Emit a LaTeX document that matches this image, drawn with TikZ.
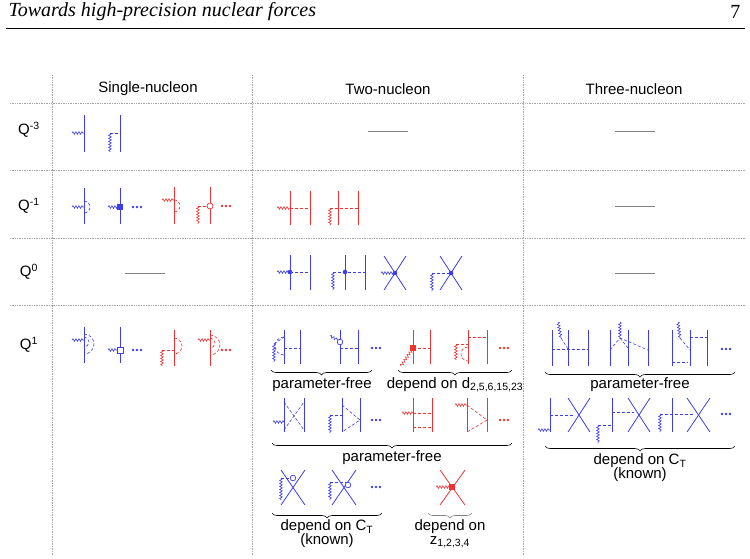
\documentclass[tikz,border=0pt]{standalone}
\usepackage{fontspec}
\setmainfont{Liberation Sans}
\newfontfamily\headfont{Liberation Serif}
\usetikzlibrary{decorations.pathmorphing,decorations.pathreplacing}
\definecolor{nb}{RGB}{60,60,240}
\definecolor{nr}{RGB}{240,50,50}
\tikzset{
  grid/.style={densely dotted, gray!70, line width=0.7pt},
  none/.style={gray, line width=0.7pt},
  nuc/.style={line width=0.8pt},
  pion/.style={densely dashed, line width=0.6pt},
  phot/.style={line width=0.6pt, decorate, decoration={snake, amplitude=1.3pt, segment length=3pt}},
  br/.style={decorate, decoration={brace, amplitude=5pt}, line width=0.6pt, black},
  lbl/.style={font=\fontsize{15}{16}\selectfont, align=center},
}
\newcommand\tdots[2]{\foreach \i in {0,4,8} \fill (#1+\i,#2) circle (1.3);}
\begin{document}
\begin{tikzpicture}[x=1pt, y=-1pt]
\useasboundingbox (0,0) rectangle (750,558);
% header
\node[anchor=west, font=\headfont\itshape\fontsize{20}{22}\selectfont] (title) at (5,12) {Towards high-precision nuclear forces};
\node[anchor=east, font=\headfont\fontsize{20}{22}\selectfont] (page) at (744,12) {7};
\draw[line width=0.4pt] (6,28) -- (745,28);
% table
\foreach \y in {103,170,238,305} \draw[grid] (10,\y) -- (745,\y);
\foreach \x in {52,252,523} \draw[grid] (\x,75) -- (\x,555);
\node[lbl] (h1) at (148,89) {Single-nucleon};
\node[lbl] (h2) at (388,89) {Two-nucleon};
\node[lbl] (h3) at (634,89) {Three-nucleon};
\node[lbl] (q1) at (29,130) {Q\textsuperscript{-3}};
\node[lbl] (q2) at (29,206) {Q\textsuperscript{-1}};
\node[lbl] (q3) at (29,272) {Q\textsuperscript{0}};
\node[lbl] (q4) at (29,345) {Q\textsuperscript{1}};
\draw[none] (368,131) -- (408,131);
\draw[none] (615,131) -- (655,131);
\draw[none] (615,206) -- (655,206);
\draw[none] (615,273) -- (655,273);
\draw[none] (125,273) -- (165,273);
% Q^-3
\begin{scope}[nb]
\draw[nuc] (84,115) -- (84,152);
\draw[phot] (72,133) -- (84,133);
\draw[nuc] (120,115) -- (120,152);
\draw[pion] (110,133) -- (120,133);
\draw[phot] (110,133) -- (110,152);
\end{scope}
% Q^-1 single
\begin{scope}[nb]
\draw[nuc] (84,188) -- (84,224);
\draw[phot] (72,207) -- (84,207);
\draw[pion] (84,201) arc (-90:90:6);
\draw[nuc] (120,188) -- (120,224);
\draw[phot] (108,207) -- (120,207);
\fill (117,204) rectangle (123,210);
\tdots{133}{207}
\end{scope}
\begin{scope}[nr]
\draw[nuc] (174,187) -- (174,224);
\draw[phot] (162,200) -- (174,200);
\draw[pion] (174,200) arc (-90:90:6);
\draw[nuc] (210,187) -- (210,224);
\draw[pion] (198,206) -- (207,206);
\draw[line width=0.7pt, fill=white] (210,206) circle (3);
\draw[phot] (198,206) -- (198,224);
\tdots{222}{206}
\end{scope}
% Q^-1 two
\begin{scope}[nr]
\draw[nuc] (290,191) -- (290,225); \draw[nuc] (310,191) -- (310,225);
\draw[phot] (277,208) -- (290,208); \draw[pion] (290,208) -- (310,208);
\draw[nuc] (338,191) -- (338,225); \draw[nuc] (358,191) -- (358,225);
\draw[pion] (330,208) -- (358,208); \draw[phot] (330,208) -- (330,225);
\end{scope}
% Q^0 two
\begin{scope}[nb]
\draw[nuc] (290,255) -- (290,290); \draw[nuc] (310,255) -- (310,290);
\draw[phot] (277,272) -- (290,272); \draw[pion] (290,272) -- (310,272);
\fill (290,272) circle (2.3);
\draw[nuc] (345,255) -- (345,290); \draw[nuc] (365,255) -- (365,290);
\draw[pion] (333,272) -- (365,272); \draw[phot] (333,272) -- (333,290);
\fill (345,272) circle (2.3);
\draw[nuc] (384,256) -- (406,290); \draw[nuc] (406,256) -- (384,290);
\draw[phot] (381,273) -- (395,273); \fill (395,273) circle (2.3);
\draw[nuc] (440,256) -- (462,290); \draw[nuc] (462,256) -- (440,290);
\draw[pion] (432,273) -- (451,273); \draw[phot] (432,273) -- (432,291);
\fill (451,273) circle (2.3);
\end{scope}
% Q^1 single
\begin{scope}[nb]
\draw[nuc] (84,327) -- (84,363);
\draw[phot] (72,340) -- (84,340);
\draw[pion] (84,337) arc (-90:90:5);
\draw[pion] (84,334) arc (-90:90:10);
\draw[nuc] (120,327) -- (120,363);
\draw[phot] (108,350) -- (117,350);
\draw[line width=0.7pt, fill=white] (117,347) rectangle (123,353);
\tdots{133}{350}
\end{scope}
\begin{scope}[nr]
\draw[nuc] (174,330) -- (174,366);
\draw[pion] (174,338) arc (-90:90:8);
\draw[pion] (162,350) -- (174,350);
\draw[phot] (162,350) -- (162,366);
\draw[nuc] (210,330) -- (210,366);
\draw[phot] (198,340) -- (210,340);
\draw[pion] (210,338) arc (-90:90:5);
\draw[pion] (210,335) arc (-90:90:10);
\tdots{222}{350}
\end{scope}
% Q^1 two, first row
\begin{scope}[nb]
\draw[nuc] (284,330) -- (284,364); \draw[nuc] (300,330) -- (300,364);
\draw[pion] (284,348) -- (300,348);
\draw[pion] (284,337) arc (-90:-270:9);
\draw[pion] (274,344) -- (284,337);
\draw[phot] (274,344) -- (274,362);
\draw[nuc] (340,330) -- (340,364); \draw[nuc] (358,330) -- (358,364);
\draw[phot] (330,336) -- (338,340);
\draw[line width=0.7pt, fill=white] (340,342) circle (2.8);
\draw[pion] (340,348) -- (358,348);
\tdots{372}{348}
\end{scope}
\begin{scope}[nr]
\draw[nuc] (413,330) -- (413,364); \draw[nuc] (430,330) -- (430,364);
\draw[pion] (413,348) -- (430,348);
\draw[phot] (401,366) -- (413,348);
\fill (410,345) rectangle (416,351);
\draw[nuc] (468,330) -- (468,364); \draw[nuc] (487,330) -- (487,364);
\draw[pion] (468,337) -- (487,337);
\draw[pion] (456,344) -- (468,344);
\draw[phot] (456,344) -- (456,360);
\draw[pion] (468,347) arc (-90:-270:7);
\tdots{500}{348}
\end{scope}
\draw[br] (372,370) -- (271,370);
\node[lbl] (pf1) at (322,385) {parameter-free};
\draw[br] (512,370) -- (398,370);
\node[lbl] (dd) at (455,385) {depend on d\textsubscript{2,5,6,15,23}};
% Q^1 two, second row
\begin{scope}[nb]
\draw[nuc] (284,398) -- (284,432); \draw[nuc] (304,398) -- (304,432);
\draw[pion] (284,402) -- (304,430); \draw[pion] (284,430) -- (304,402);
\draw[phot] (273,422) -- (284,422);
\draw[nuc] (342,398) -- (342,432); \draw[nuc] (360,398) -- (360,432);
\draw[pion] (342,405) -- (360,420) -- (342,432);
\draw[pion] (330,415) -- (342,415);
\draw[phot] (330,415) -- (330,433);
\tdots{372}{420}
\end{scope}
\begin{scope}[nr]
\draw[nuc] (413,398) -- (413,432); \draw[nuc] (432,398) -- (432,432);
\draw[pion] (413,413) -- (432,413); \draw[pion] (413,427) -- (432,427);
\draw[phot] (402,413) -- (413,413);
\draw[nuc] (467,398) -- (467,432); \draw[nuc] (487,398) -- (487,432);
\draw[phot] (455,405) -- (467,405);
\draw[pion] (467,405) -- (487,420) -- (467,432);
\tdots{500}{420}
\end{scope}
\draw[br] (512,443) -- (272,443);
\node[lbl] (pf2) at (392,458) {parameter-free};
% Q^1 two, third row
\begin{scope}[nb]
\draw[nuc] (281,470) -- (305,505); \draw[nuc] (305,470) -- (281,505);
\draw[pion] (281,478) -- (290,478);
\draw[phot] (281,478) -- (281,500);
\draw[line width=0.7pt, fill=white] (293,478) circle (2.8);
\draw[nuc] (332,470) -- (356,505); \draw[nuc] (356,470) -- (332,505);
\draw[pion] (330,482) -- (348,482);
\draw[phot] (330,482) -- (330,500);
\draw[line width=0.7pt, fill=white] (348,485) circle (2.8);
\tdots{372}{487}
\end{scope}
\begin{scope}[nr]
\draw[nuc] (440,470) -- (465,505); \draw[nuc] (465,470) -- (440,505);
\draw[phot] (436,487) -- (450,487);
\fill (449,484) rectangle (455,490);
\end{scope}
\draw[br] (382,513) -- (272,513);
\node[lbl] (ct1) at (327,534) {depend on C\textsubscript{T}\\[-2pt](known)};
\draw[br, gray] (472,513) -- (428,513);
\node[lbl] (zz) at (450,534) {depend on\\[-2pt]z\textsubscript{1,2,3,4}};
% Q^1 three, first row
\begin{scope}[nb]
\draw[nuc] (552,330) -- (552,366); \draw[nuc] (568,330) -- (568,366); \draw[nuc] (588,330) -- (588,366);
\draw[pion] (552,349) -- (588,349);
\draw[phot] (558,322) -- (561,338); \draw[pion] (561,338) -- (568,349);
\draw[nuc] (610,330) -- (610,366); \draw[nuc] (628,330) -- (628,366); \draw[nuc] (648,330) -- (648,366);
\draw[phot] (620,322) -- (620,338);
\draw[pion] (610,350) -- (620,338) -- (648,350);
\draw[pion] (620,338) -- (628,348);
\draw[nuc] (672,330) -- (672,366); \draw[nuc] (690,330) -- (690,366); \draw[nuc] (707,330) -- (707,366);
\draw[pion] (672,362) -- (688,362);
\draw[pion] (690,337) -- (707,337);
\draw[phot] (678,322) -- (680,338); \draw[pion] (680,338) -- (690,350);
\tdots{722}{349}
\end{scope}
\draw[br] (735,372) -- (545,372);
\node[lbl] (pf3) at (640,385) {parameter-free};
% Q^1 three, second row
\begin{scope}[nb]
\draw[nuc] (550,398) -- (550,432);
\draw[nuc] (568,398) -- (590,432); \draw[nuc] (590,398) -- (568,432);
\draw[pion] (550,415) -- (575,415);
\draw[phot] (538,430) -- (550,430);
\draw[nuc] (612,398) -- (612,432);
\draw[nuc] (628,398) -- (650,432); \draw[nuc] (650,398) -- (628,432);
\draw[pion] (612,412) -- (634,412);
\draw[pion] (598,425) -- (612,425);
\draw[phot] (598,425) -- (598,443);
\draw[nuc] (672,398) -- (672,432);
\draw[nuc] (687,398) -- (710,432); \draw[nuc] (710,398) -- (687,432);
\draw[pion] (660,414) -- (694,414);
\draw[phot] (660,414) -- (660,432);
\tdots{722}{414}
\end{scope}
\draw[br] (735,446) -- (545,446);
\node[lbl] (ct2) at (640,468) {depend on C\textsubscript{T}\\[-2pt](known)};
\end{tikzpicture}
\end{document}
